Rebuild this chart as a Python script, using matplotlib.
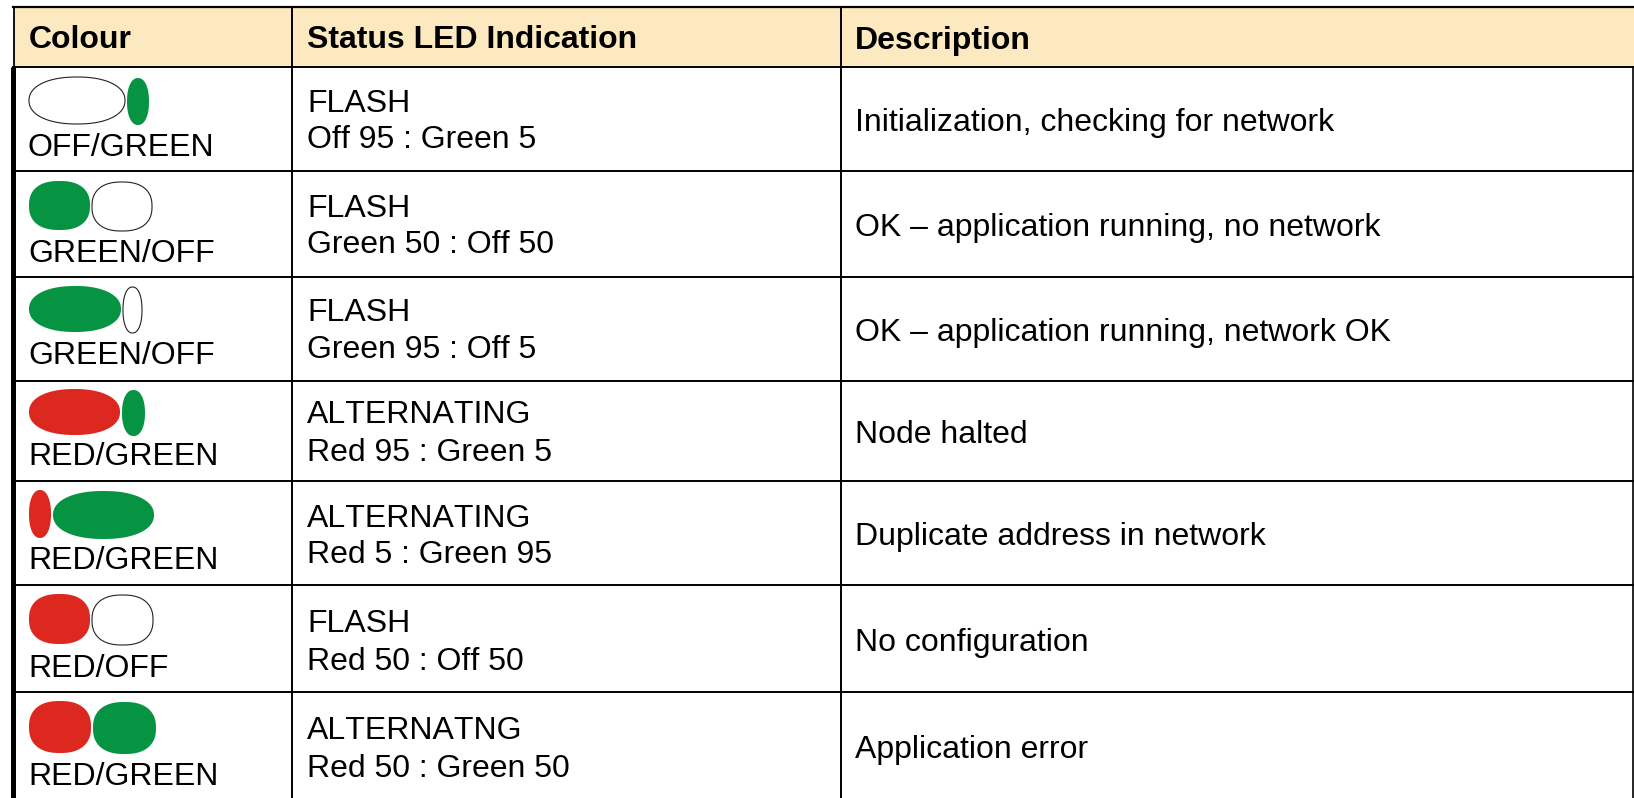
import numpy as np
import matplotlib
matplotlib.use("Agg")
import matplotlib.pyplot as plt

plt.rcParams["font.family"] = ["Liberation Sans", "DejaVu Sans"]
plt.rcParams["text.kerning_factor"] = 30

# Table contents
headers = ["Colour", "Status LED Indication", "Description"]
colour_names = ["OFF/GREEN", "GREEN/OFF", "GREEN/OFF", "RED/GREEN", "RED/GREEN", "RED/OFF", "RED/GREEN"]
modes = ["FLASH", "FLASH", "FLASH", "ALTERNATING", "ALTERNATING", "FLASH", "ALTERNATNG"]
ratios = ["Off 95 : Green 5", "Green 50 : Off 50", "Green 95 : Off 5", "Red 95 : Green 5",
          "Red 5 : Green 95", "Red 50 : Off 50", "Red 50 : Green 50"]
descriptions = ["Initialization, checking for network", "OK \u2013 application running, no network",
                "OK \u2013 application running, network OK", "Node halted",
                "Duplicate address in network", "No configuration", "Application error"]

# LED states and share of the cycle
first_state = ["off", "green", "green", "red", "red", "red", "red"]
second_state = ["green", "off", "off", "green", "green", "off", "green"]
first_duty = [95, 50, 95, 95, 5, 50, 50]
second_duty = [5, 50, 5, 5, 95, 50, 50]

# Layout, in pixels of the picture
W, H = 1634, 798
row_lines = [66.5, 171, 277, 380.5, 481, 585, 692]
col_lines = [292, 841]
text_x = [29, 307, 855]
name_base = [156, 262, 364, 465, 569, 677, 785]
mode_base = [112, 217, 321, 423, 527, 632, 739]
ratio_base = [148, 253, 358, 461, 563, 670, 777]
desc_base = [131, 236, 341, 443, 545, 651, 758]
led_top = [77, 181, 286, 389, 490, 594, 701]
led_h = [47, 49, 46, 46, 48, 50, 52]
first_w = [96, 61, 92, 91, 22, 61, 62]
second_w = [22, 60, 19, 23, 101, 61, 63]
duty_round = {95: 2.2, 50: 2.4, 5: 2.2}
state_colour = {"off": "white", "green": "#069443", "red": "#dc281e"}
header_colour = "#fde9bf"
font_px = 32
font_pt = font_px * 0.72


def draw_led(ax, x, top, w, h, state, n):
    t = np.linspace(0, 2 * np.pi, 200)
    px = x + w / 2 + w / 2 * np.sign(np.cos(t)) * np.abs(np.cos(t)) ** (2 / n)
    py = top + h / 2 + h / 2 * np.sign(np.sin(t)) * np.abs(np.sin(t)) ** (2 / n)
    if state == "off":
        ax.fill(px, py, facecolor="white", edgecolor="#222222", lw=0.8, zorder=3)
    else:
        ax.fill(px, py, facecolor=state_colour[state], edgecolor="none", zorder=3)


fig = plt.figure(figsize=(W / 100, H / 100), dpi=100)
ax = fig.add_axes([0, 0, 1, 1])
ax.set_xlim(0, W)
ax.set_ylim(H, 0)
ax.axis("off")

# Header band and grid
ax.fill_between([14, W], 7, row_lines[0], color=header_colour, lw=0, zorder=1)
ax.plot([13, W], [7, 7], color="black", lw=1.6, zorder=2)
ax.plot([14, 14], [7, row_lines[0]], color="black", lw=1.3, zorder=2)
ax.plot([13.5, 13.5], [row_lines[0], H], color="black", lw=3.6, zorder=2, solid_capstyle="butt")
ax.plot([W - 1, W - 1], [row_lines[0], H], color="black", lw=1.2, zorder=2)
for y in row_lines:
    ax.plot([13, W], [y, y], color="black", lw=1.4, zorder=2)
for x in col_lines:
    ax.plot([x, x], [7, H], color="black", lw=1.4, zorder=2)

for x, label in zip(text_x, headers):
    ax.text(x, 48.5, label, fontsize=font_pt, fontweight="bold", va="baseline", ha="left")

for i in range(len(colour_names)):
    draw_led(ax, 29, led_top[i], first_w[i], led_h[i], first_state[i], duty_round[first_duty[i]])
    draw_led(ax, 29 + first_w[i] + 2, led_top[i] + 1, second_w[i], led_h[i], second_state[i],
             duty_round[second_duty[i]])
    ax.text(text_x[0] - 1, name_base[i], colour_names[i], fontsize=font_pt, va="baseline")
    ax.text(text_x[1], mode_base[i], modes[i], fontsize=font_pt, va="baseline")
    ax.text(text_x[1], ratio_base[i], ratios[i], fontsize=font_pt, va="baseline")
    ax.text(text_x[2], desc_base[i], descriptions[i], fontsize=font_pt, va="baseline")

fig.savefig("out.png", dpi=100, facecolor="white")
